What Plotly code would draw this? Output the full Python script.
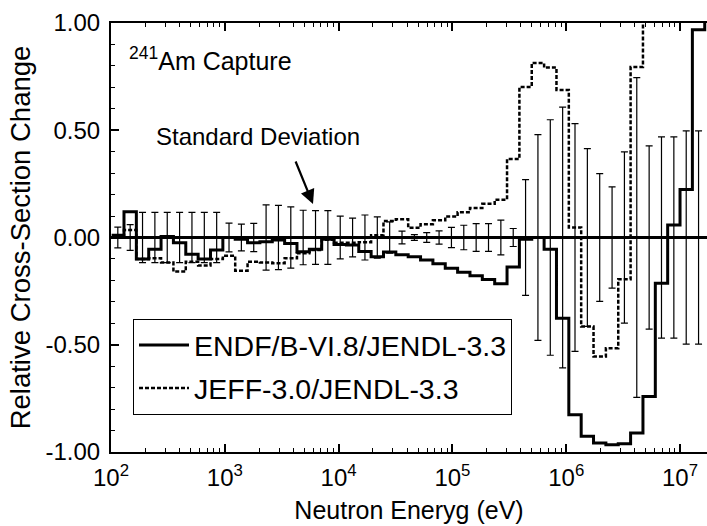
import numpy as np
import plotly.graph_objects as go

# Energy group lower boundaries (eV), lethargy width 0.25
group_lower_ev = [101.30, 130.07, 167.02, 214.45, 275.36, 353.57, 454.00, 582.95, 748.52, 961.12,
                  1234.1, 1584.6, 2034.7, 2612.6, 3354.6, 4307.4, 5530.8, 7101.7, 9118.8, 11709,
                  15034, 19305, 24788, 31828, 40868, 52475, 67379, 86517, 111090, 142640,
                  183160, 235180, 301970, 387740, 497870, 639280, 820850, 1053990, 1353350, 1737700,
                  2231300, 2865000, 3678800, 4723700, 6065300, 7788000, 10000000, 12840300, 16487200]
group_top_ev = 21170000

endf_vs_jendl = [0.01, 0.12, -0.10, -0.055, 0.005, -0.025, -0.078, -0.10, -0.058, 0.0,
                 -0.008, -0.025, -0.02, -0.012, -0.028, -0.066, -0.055, -0.008, -0.033, -0.035,
                 -0.065, -0.09, -0.068, -0.08, -0.09, -0.105, -0.122, -0.143, -0.162, -0.178,
                 -0.196, -0.216, -0.138, -0.008, 0.0, -0.055, -0.376, -0.826, -0.927, -0.958,
                 -0.966, -0.962, -0.912, -0.741, -0.213, 0.058, 0.224, 0.969, 1.05]

jeff_vs_jendl = [0.0, 0.035, -0.10, -0.097, -0.117, -0.159, -0.113, -0.13, -0.10, -0.085,
                 -0.155, -0.113, -0.117, -0.12, -0.097, -0.074, -0.058, -0.01, -0.025, -0.025,
                 -0.022, 0.01, 0.077, 0.085, 0.045, 0.062, 0.08, 0.098, 0.118, 0.138,
                 0.157, 0.176, 0.366, 0.702, 0.814, 0.792, 0.688, 0.047, -0.415, -0.555,
                 -0.516, -0.195, 0.795, 1.2, 1.2, 1.2, 1.2, 1.2, 1.2]

std_dev = [0.048, 0.06, 0.117, 0.117, 0.117, 0.117, 0.117, 0.117, 0.117, 0.067,
           0.062, 0.066, 0.152, 0.15, 0.143, 0.127, 0.125, 0.125, 0.10, 0.09,
           0.105, 0.096, 0.073, 0.03, 0.013, 0.023, 0.031, 0.047, 0.057, 0.065,
           0.065, 0.081, 0.042, 0.27, 0.48, 0.549, 0.608, 0.531, 0.414, 0.298,
           0.236, 0.399, 0.745, 0.427, 0.469, 0.469, 0.497, 0.497, 0.497]

y_tick_vals = [-1.0, -0.5, 0.0, 0.5, 1.0]
y_tick_text = ["-1.00", "-0.50", "0.00", "0.50", "1.00"]
x_tick_vals = [1e2, 1e3, 1e4, 1e5, 1e6, 1e7]
x_tick_text = ["10<sup>2</sup>", "10<sup>3</sup>", "10<sup>4</sup>",
               "10<sup>5</sup>", "10<sup>6</sup>", "10<sup>7</sup>"]

lower = np.array(group_lower_ev)
upper = np.array(group_lower_ev[1:] + [group_top_ev])
centers = np.sqrt(lower * upper)
step_x = list(lower) + [group_top_ev]

FONT = "Liberation Sans, Arial, Helvetica, sans-serif"

fig = go.Figure()

fig.add_trace(go.Scatter(
    x=centers, y=[0.0] * len(centers), mode="markers",
    marker=dict(size=1, color="rgba(0,0,0,0)"),
    error_y=dict(type="data", array=std_dev, symmetric=True, color="black",
                 thickness=1.2, width=3.5),
    showlegend=False, hoverinfo="skip"))

fig.add_trace(go.Scatter(
    x=step_x, y=jeff_vs_jendl + [jeff_vs_jendl[-1]], mode="lines",
    line=dict(shape="hv", color="black", width=2.5, dash="4px,2px"),
    name="JEFF-3.0/JENDL-3.3", legendgroup="b", legendrank=2))

fig.add_trace(go.Scatter(
    x=step_x, y=endf_vs_jendl + [endf_vs_jendl[-1]], mode="lines",
    line=dict(shape="hv", color="black", width=3),
    name="ENDF/B-VI.8/JENDL-3.3", legendgroup="a", legendrank=1))

minor_x = [m * 10 ** d for d in range(2, 8) for m in range(2, 10)]

fig.update_xaxes(
    type="log", range=[2, 7.237],
    tickmode="array", tickvals=x_tick_vals, ticktext=x_tick_text,
    ticks="inside", ticklen=8, tickwidth=1.5, tickcolor="black",
    minor=dict(tickmode="array", tickvals=minor_x, ticks="inside", ticklen=4,
               tickwidth=1.2, tickcolor="black"),
    showline=True, linecolor="black", linewidth=2, mirror="ticks",
    showgrid=False, zeroline=False,
    tickfont=dict(family=FONT, size=24, color="black"),
    ticklabelstandoff=3,
    title=dict(text="Neutron Eneryg (eV)", font=dict(family=FONT, size=25, color="black"),
               standoff=12),
)
fig.update_yaxes(
    range=[-1, 1],
    tickmode="array", tickvals=y_tick_vals, ticktext=y_tick_text,
    ticks="inside", ticklen=8, tickwidth=1.5, tickcolor="black",
    minor=dict(dtick=0.1, ticks="inside", ticklen=4, tickwidth=1.2, tickcolor="black"),
    showline=True, linecolor="black", linewidth=2, mirror=False,
    showgrid=False, zeroline=True, zerolinecolor="black", zerolinewidth=2.5,
    tickfont=dict(family=FONT, size=24, color="black"),
    ticklabelstandoff=4,
    title=dict(text="Relative Cross-Section Change", font=dict(family=FONT, size=27.5, color="black"),
               standoff=7),
)

W, H = 707, 526
L, R, T, B = 111, 0, 23, 74
pw, ph = W - L - R, H - T - B

def px2paper(x, y):
    return (x - L) / pw, (H - B - y) / ph

ax_, ay_ = px2paper(127, 59)
fig.add_annotation(x=ax_, y=ay_, xref="paper", yref="paper", xanchor="left", yanchor="middle",
                   text="<sup>241</sup>Am Capture", showarrow=False,
                   font=dict(family=FONT, size=25, color="black"))
sx, sy = px2paper(154, 136)
fig.add_annotation(x=sx, y=sy, xref="paper", yref="paper", xanchor="left", yanchor="middle",
                   text="Standard Deviation", showarrow=False,
                   font=dict(family=FONT, size=24, color="black"))
hx, hy = px2paper(313, 204)
fig.add_annotation(x=hx, y=hy, xref="paper", yref="paper", text="", showarrow=True,
                   ax=-18, ay=-44, arrowhead=2, arrowsize=1.3, arrowwidth=2.2, arrowcolor="black")

lx, ly = px2paper(133, 319)
fig.update_layout(
    width=W, height=H, template="none",
    margin=dict(l=L, r=R, t=T, b=B, pad=0),
    paper_bgcolor="white", plot_bgcolor="white",
    font=dict(family=FONT, color="black"),
    legend=dict(x=lx, y=ly, xanchor="left", yanchor="top", xref="paper", yref="paper",
                bgcolor="white", bordercolor="black", borderwidth=1,
                font=dict(family=FONT, size=28.5, color="black"),
                traceorder="grouped", tracegroupgap=3, itemwidth=50),
    showlegend=True,
)

fig.write_html("out.html", config={"displayModeBar": False},
               post_script="document.body.style.margin='0px';")
